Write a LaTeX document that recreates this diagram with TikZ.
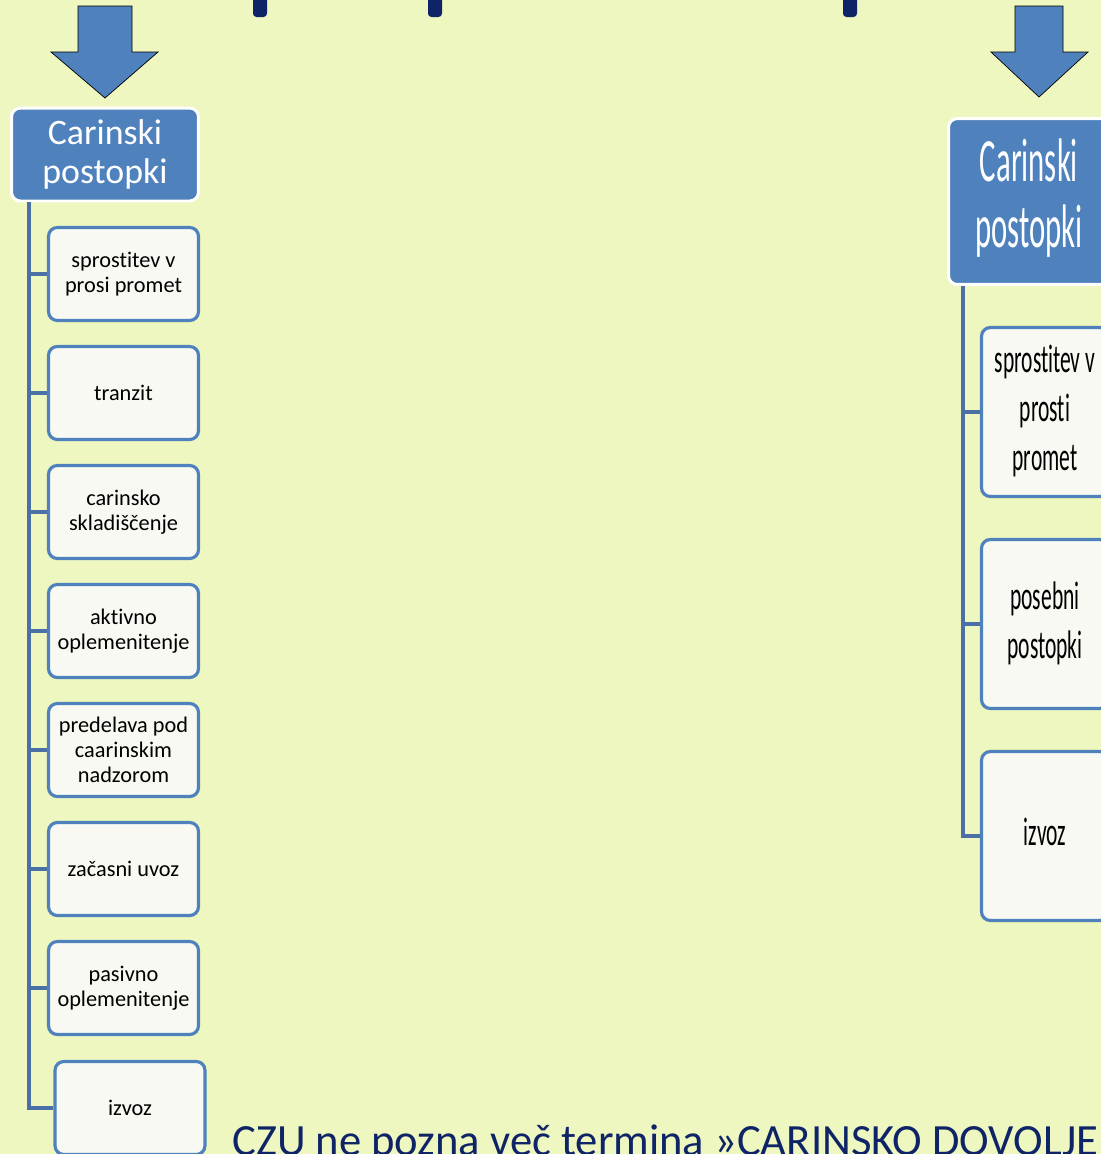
\documentclass[tikz,border=0pt]{standalone}
\usepackage{fontspec}
\setmainfont{Carlito}[Ligatures={NoCommon}]
\usepackage{graphicx}
\usepackage{tikz}
\usetikzlibrary{positioning}

\definecolor{bgcol}{HTML}{EEF7BF}
\definecolor{boxblue}{HTML}{4F81BD}
\definecolor{spinecol}{HTML}{4A70A6}
\definecolor{navy}{HTML}{0E2467}
\definecolor{paper}{HTML}{F8F9F2}

\newcommand{\narrow}[2]{\scalebox{#1}[1]{\begin{tabular}{@{}c@{}}#2\end{tabular}}}

\tikzset{
  head/.style={draw=white, line width=1.7pt, fill=boxblue, rounded corners=5pt,
    text=white, align=center, inner sep=0pt},
  item/.style={draw=boxblue, line width=1.8pt, fill=paper, rounded corners=5pt,
    minimum width=3.0cm, minimum height=1.86cm, align=center, inner sep=0pt,
    font=\fontsize{12.7}{14.2}\selectfont},
  bigitem/.style={item, minimum width=2.54cm, minimum height=3.38cm,
    font=\fontsize{22.7}{27.8}\selectfont},
  link/.style={spinecol, line width=2.2pt},
  blockarrow/.style={draw=black, thin, fill=boxblue, line join=miter}
}

\begin{document}
\begin{tikzpicture}[x=0.02cm, y=-0.02cm]
    \useasboundingbox (0,0) rectangle (1101,1154);
    \clip (0,0) rectangle (1101,1154);
    \fill[bgcol] (0,0) rectangle (1101,1154);

    % Bars at the top edge
    \foreach \bx in {253,428,843}
      \fill[navy, rounded corners=2pt] (\bx,-10) rectangle (\bx+14,17);

    % Block arrows
    \draw[blockarrow] (78,6) -- (132,6) -- (132,52) -- (158,52) -- (105,98) -- (51,52) -- (78,52) -- cycle;
    \draw[blockarrow] (1015,6) -- (1063,6) -- (1063,52) -- (1088,52) -- (1039,97) -- (991,52) -- (1015,52) -- cycle;

    % Left tree
    \node[head, minimum width=3.74cm, minimum height=1.86cm,
      font=\fontsize{20.4}{21.8}\selectfont] (hdrL) at (105,154.5) {Carinski\\postopki};
    \node[item] (l1) at (123.5,274) {sprostitev v\\prosi promet};
    \node[item] (l2) at (123.5,393) {tranzit};
    \node[item] (l3) at (123.5,512) {carinsko\\skladiščenje};
    \node[item] (l4) at (123.5,631) {aktivno\\oplemenitenje};
    \node[item] (l5) at (123.5,750) {predelava pod\\caarinskim\\nadzorom};
    \node[item] (l6) at (123.5,869) {začasni uvoz};
    \node[item] (l7) at (123.5,988) {pasivno\\oplemenitenje};
    \node[item] (l8) at (130,1108) {izvoz};

    \foreach \c in {l1,l2,l3,l4,l5,l6,l7,l8}
      \draw[link] ([xshift=0.38cm]hdrL.south west) |- (\c.west);

    % Right tree
    \node[head, minimum width=3.22cm, minimum height=3.32cm,
      font=\fontsize{35}{37.4}\selectfont] (hdrR) at (1029,201.5) {\narrow{0.5}{Carinski\\postopki}};
    \node[bigitem] (r1) at (1045,412) {\narrow{0.54}{sprostitev v\\prosti\\promet}};
    \node[bigitem] (r2) at (1045,624) {\narrow{0.54}{posebni\\postopki}};
    \node[bigitem] (r3) at (1045,836) {\narrow{0.54}{izvoz}};

    \foreach \c in {r1,r2,r3}
      \draw[link] ([xshift=0.32cm]hdrR.south west) |- (\c.west);

    % Caption at the bottom
    \node[anchor=base west, inner sep=0pt, text=navy,
      font=\fontsize{25.4}{28}\selectfont] (note) at (232,1155) {CZU ne pozna več termina »CARINSKO DOVOLJENJE«};
\end{tikzpicture}
\end{document}
